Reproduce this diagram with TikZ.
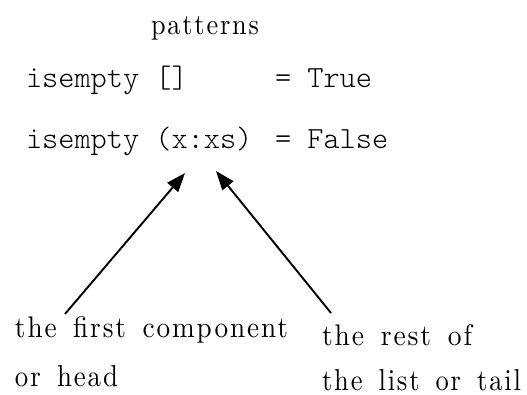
\documentclass[tikz,border=0pt]{standalone}
\usepackage{fontspec}
\newfontfamily\spacedserif{lmroman10-regular.otf}[LetterSpace=7,WordSpace=1.5]
\newfontfamily\monolight{lmmonolt10-regular.otf}
\usetikzlibrary{arrows.meta}
\begin{document}
\begin{tikzpicture}[x=1pt,y=-1pt,
  lbl/.style={inner sep=0pt, outer sep=0pt, anchor=base west, font=\fontsize{29}{34}\spacedserif},
  code/.style={inner sep=0pt, outer sep=0pt, anchor=base west, font=\fontsize{30.8}{36}\monolight},
  arr/.style={line width=1.9pt, -{Triangle[length=19pt,width=14pt]}}]
\useasboundingbox (0,0) rectangle (527,395);
\node[lbl] (pat) at (151,35) {\resizebox{108pt}{18pt}{patterns}};
\node[code] (l1) at (26,88) {isempty []};
\node[code] (r1) at (275,88) {= True};
\node[code] (l2) at (26,149) {isempty (x:xs)};
\node[code] (r2) at (275,149) {= False};
\node[lbl] (a1) at (15,337) {\resizebox{273pt}{21pt}{the first component}};
\node[lbl] (a2) at (15,386) {\resizebox{103pt}{21pt}{or head}};
\node[lbl] (b1) at (322,345) {\resizebox{150pt}{21pt}{the rest of}};
\node[lbl] (b2) at (322,390) {\resizebox{199pt}{21pt}{the list or tail}};
\coordinate (h0) at (65,314);
\coordinate (h1) at (185,173);
\coordinate (t0) at (331,313);
\coordinate (t1) at (216,171);
\draw[arr] (h0) -- (h1);
\draw[arr] (t0) -- (t1);
\end{tikzpicture}
\end{document}
